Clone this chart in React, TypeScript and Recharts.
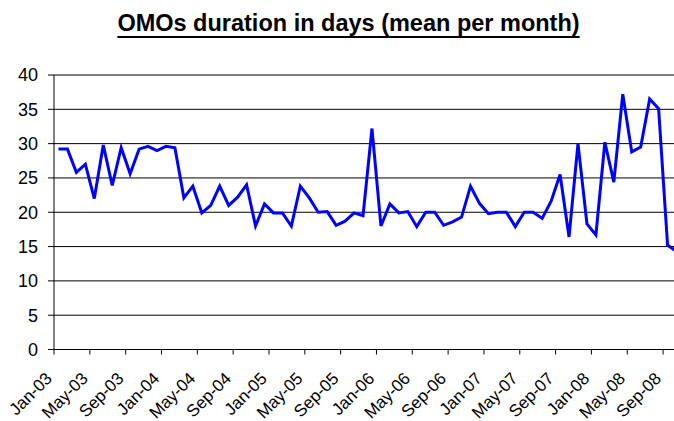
import React from 'react';
import { LineChart, Line, XAxis, YAxis, CartesianGrid } from 'recharts';

const MONTHS = [
  'Jan-03', 'Feb-03', 'Mar-03', 'Apr-03', 'May-03', 'Jun-03', 'Jul-03', 'Aug-03', 'Sep-03', 'Oct-03', 'Nov-03', 'Dec-03',
  'Jan-04', 'Feb-04', 'Mar-04', 'Apr-04', 'May-04', 'Jun-04', 'Jul-04', 'Aug-04', 'Sep-04', 'Oct-04', 'Nov-04', 'Dec-04',
  'Jan-05', 'Feb-05', 'Mar-05', 'Apr-05', 'May-05', 'Jun-05', 'Jul-05', 'Aug-05', 'Sep-05', 'Oct-05', 'Nov-05', 'Dec-05',
  'Jan-06', 'Feb-06', 'Mar-06', 'Apr-06', 'May-06', 'Jun-06', 'Jul-06', 'Aug-06', 'Sep-06', 'Oct-06', 'Nov-06', 'Dec-06',
  'Jan-07', 'Feb-07', 'Mar-07', 'Apr-07', 'May-07', 'Jun-07', 'Jul-07', 'Aug-07', 'Sep-07', 'Oct-07', 'Nov-07', 'Dec-07',
  'Jan-08', 'Feb-08', 'Mar-08', 'Apr-08', 'May-08', 'Jun-08', 'Jul-08', 'Aug-08', 'Sep-08', 'Oct-08',
];

// mean duration (days) per month
const DURATION = [
  29.2, 29.2, 25.8, 27.0, 22.0, 29.8, 23.9, 29.4, 25.6, 29.2, 29.6, 29.0,
  29.6, 29.4, 22.1, 23.8, 19.9, 21.0, 23.8, 21.0, 22.2, 24.0, 18.0, 21.2,
  19.9, 19.9, 18.0, 23.8, 22.1, 20.0, 20.1, 18.1, 18.7, 19.9, 19.5, 32.2,
  18.0, 21.2, 19.9, 20.1, 17.9, 20.0, 20.0, 18.1, 18.6, 19.3, 23.8, 21.3,
  19.8, 20.0, 20.0, 17.9, 20.0, 20.0, 19.1, 21.6, 25.5, 16.4, 30.0, 18.3,
  16.7, 30.2, 24.4, 37.2, 28.8, 29.5, 36.5, 35.1, 15.2, 14.3,
];

const Y_TICKS = [0, 5, 10, 15, 20, 25, 30, 35, 40];
// a labelled tick every 4 months, on category boundaries like Excel
const X_TICKS = [0, 4, 8, 12, 16, 20, 24, 28, 32, 36, 40, 44, 48, 52, 56, 60, 64, 68];

const data = DURATION.map((v, i) => ({ pos: i + 0.5, month: MONTHS[i], value: v }));

const FONT = '"Liberation Sans", Arial, sans-serif';

const MonthTick = (props: any) => {
  const { x, y, payload } = props;
  const label = MONTHS[payload.value] ?? '';
  const ax = x - 1;
  const ay = y + 23;
  return (
    <text
      x={ax}
      y={ay}
      textAnchor="end"
      transform={`rotate(-45 ${ax} ${ay})`}
      fontSize={17}
      fontFamily={FONT}
      fill="#000"
    >
      {label}
    </text>
  );
};

export default function App() {
  return (
    <div
      style={{
        position: 'absolute',
        left: 0,
        top: 0,
        width: 674,
        height: 421,
        overflow: 'hidden',
        background: '#fff',
        fontFamily: FONT,
      }}
    >
      <div
        style={{
          position: 'absolute',
          left: 0,
          top: 10,
          width: 697,
          textAlign: 'center',
          fontSize: 23.5,
          lineHeight: '27px',
          fontWeight: 'bold',
          textDecoration: 'underline',
          textDecorationThickness: 2,
          textUnderlineOffset: 5,
          color: '#000',
        }}
      >
        OMOs duration in days (mean per month)
      </div>
      <LineChart
        width={681}
        height={421}
        data={data}
        margin={{ top: 75, right: 0, bottom: 0, left: 0 }}
      >
        <CartesianGrid vertical={false} stroke="#000" strokeWidth={1} />
        <XAxis
          type="number"
          dataKey="pos"
          domain={[0, 70]}
          ticks={X_TICKS}
          interval={0}
          height={71.5}
          tick={<MonthTick />}
          tickSize={5}
          axisLine={{ stroke: '#000' }}
          tickLine={{ stroke: '#000' }}
          allowDataOverflow
        />
        <YAxis
          type="number"
          domain={[0, 40]}
          ticks={Y_TICKS}
          interval={0}
          width={54}
          tickSize={6}
          tickMargin={10}
          axisLine={{ stroke: '#000' }}
          tickLine={{ stroke: '#000' }}
          tick={{ fill: '#000', fontSize: 18, fontFamily: FONT }}
        />
        <Line
          type="linear"
          dataKey="value"
          stroke="#0000FF"
          strokeWidth={3}
          dot={false}
          activeDot={false}
          isAnimationActive={false}
        />
      </LineChart>
    </div>
  );
}
